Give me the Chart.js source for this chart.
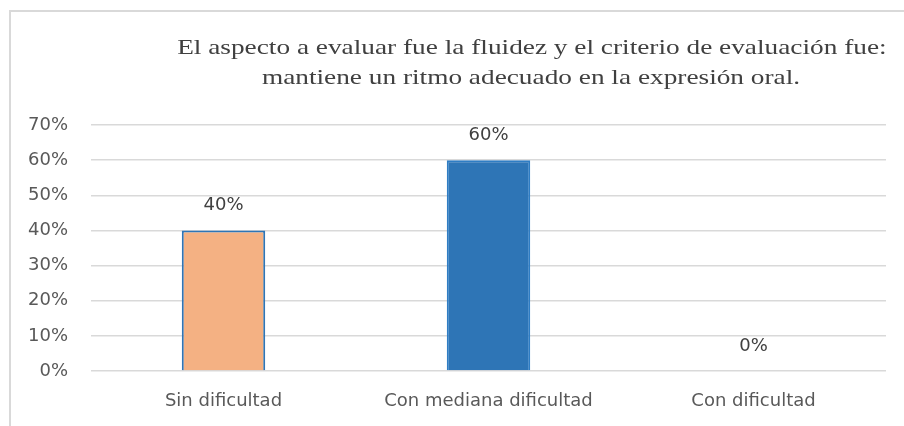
<!DOCTYPE html>
<html>
<head>
<meta charset="utf-8">
<script src="https://cdn.jsdelivr.net/npm/chart.js@4.4.1/dist/chart.umd.min.js"></script>
<style>
    html, body { margin: 0; padding: 0; background: #ffffff; overflow: hidden; }
    #wrap { position: relative; width: 904px; height: 426px; }
    #frame {
        position: absolute; left: 9px; top: 10px; width: 1000px; height: 600px;
        border-top: 2px solid #d9d9d9; border-left: 2px solid #d9d9d9;
    }
    #title {
        position: absolute; left: 175px; width: 713px; top: 32px;
        font-family: "Liberation Serif", "DejaVu Serif", serif;
        font-size: 21px; line-height: 30px; color: #404040; text-align: center;
    }
    #title span { display: inline-block; transform: scaleX(1.3); transform-origin: center; white-space: nowrap; }
    #chart { position: absolute; left: 0; top: 0; }
</style>
</head>
<body>
<div id="wrap">
    <div id="frame"></div>
    <canvas id="chart" width="904" height="426"></canvas>
    <div id="title"><span>El aspecto a evaluar fue la fluidez y el criterio de evaluación fue:</span><br><span>mantiene un ritmo adecuado en la expresión oral.</span></div>
</div>
<script>
// Chart data
const categories = ['Sin dificultad', 'Con mediana dificultad', 'Con dificultad'];
const percentages = [40, 60, 0];
const barColors = ['#F4B183', '#2E75B6', '#A5A5A5'];
const barBorders = ['#2E75B6', '#2F7DC4', '#A5A5A5'];
const yTicks = [0, 10, 20, 30, 40, 50, 60, 70];

const fontFamily = '"DejaVu Sans", Lato, sans-serif';
const tickFont = { family: fontFamily, size: 18 };

// Draws the value labels above each bar
const valueLabels = {
    id: 'valueLabels',
    afterDatasetsDraw(chart) {
        const ctx = chart.ctx;
        const meta = chart.getDatasetMeta(0);
        ctx.save();
        ctx.font = '18px ' + fontFamily;
        ctx.fillStyle = '#404040';
        ctx.textAlign = 'center';
        ctx.textBaseline = 'middle';
        meta.data.forEach((bar, i) => {
            ctx.fillText(percentages[i] + '%', bar.x, bar.y - 25);
        });
        ctx.restore();
    }
};

new Chart(document.getElementById('chart'), {
    type: 'bar',
    data: {
        labels: categories,
        datasets: [{
            data: percentages,
            backgroundColor: barColors,
            borderColor: barBorders,
            borderWidth: 2,
            categoryPercentage: 1,
            barPercentage: 0.315
        }]
    },
    options: {
        responsive: false,
        animation: false,
        layout: { padding: { left: 10, top: 125, right: 18, bottom: 0 } },
        plugins: {
            legend: { display: false },
            tooltip: { enabled: false },
            title: { display: false }
        },
        scales: {
            x: {
                grid: { display: false, drawTicks: false },
                border: { display: false },
                ticks: { color: '#595959', font: tickFont, padding: 20 },
                afterFit(axis) { axis.height = 55; }
            },
            y: {
                min: 0,
                max: 70,
                afterBuildTicks(axis) { axis.ticks = yTicks.map(v => ({ value: v })); },
                grid: { color: '#d9d9d9', lineWidth: 1.5, drawTicks: false },
                border: { display: false },
                ticks: {
                    color: '#595959', font: tickFont, padding: 23,
                    callback: v => v + '%'
                },
                afterFit(axis) { axis.width = 81; }
            }
        }
    },
    plugins: [valueLabels]
});
</script>
</body>
</html>
